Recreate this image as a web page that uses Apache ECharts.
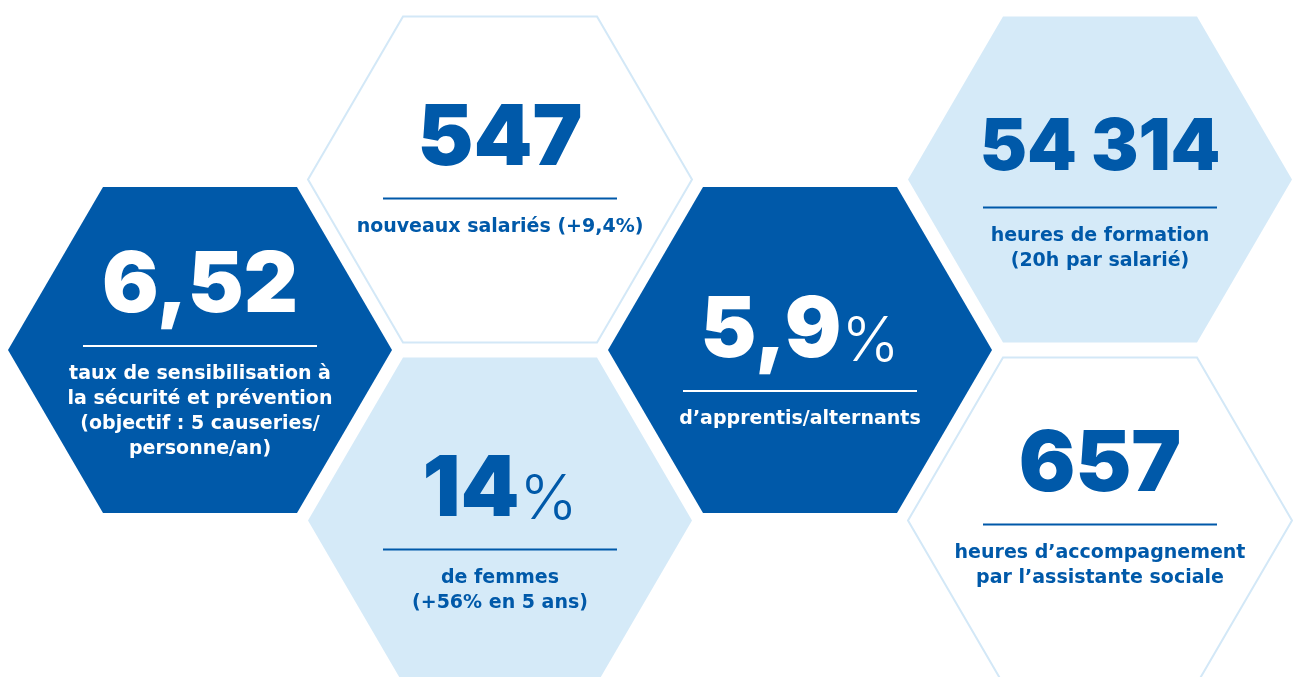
<!DOCTYPE html>
<html>
<head>
<meta charset="utf-8">
<script src="https://cdn.jsdelivr.net/npm/echarts@6/dist/echarts.min.js"></script>
<style>
  html, body { margin: 0; padding: 0; background: #fff; }
  #hexes { width: 1293px; height: 677px; }
</style>
</head>
<body>
<div id="hexes"></div>
<script>
// chiffres clés
const figures = ['6,52', '547', '14', '5,9', '54 314', '657'];
const units = ['', '', '%', '%', '', ''];
const captions = [
  ['taux de sensibilisation à', 'la sécurité et prévention', '(objectif : 5 causeries/', 'personne/an)'],
  ['nouveaux salariés (+9,4%)'],
  ['de femmes', '(+56% en 5 ans)'],
  ['d’apprentis/alternants'],
  ['heures de formation', '(20h par salarié)'],
  ['heures d’accompagnement', 'par l’assistante sociale']
];
const tones = ['dark', 'outline', 'light', 'dark', 'light', 'outline'];

// placement des alvéoles (colonne, demi-rangée, position du filet)
const slots = [
  { col: 0, row: 0, rule: -4 },
  { col: 1, row: -1, rule: 19 },
  { col: 1, row: 1, rule: 29 },
  { col: 2, row: 0, rule: 41 },
  { col: 3, row: -1, rule: 28 },
  { col: 3, row: 1, rule: 4 }
];

const BLUE = '#0059a9';
const PALE = '#d5eaf8';
const EDGE = '#d3e8f7';

const chart = echarts.init(document.getElementById('hexes'));

function renderHex(params, api) {
  const i = params.dataIndex;
  const s = slots[i];
  const cx = 200 + s.col * 300;
  const cy = 350 + s.row * 170.5;
  const hw = 192, ht = 97, hh = 163;
  const pts = [
    [cx - hw, cy], [cx - ht, cy - hh], [cx + ht, cy - hh],
    [cx + hw, cy], [cx + ht, cy + hh], [cx - ht, cy + hh]
  ].map(p => api.coord(p));
  const tone = tones[i];
  const ink = tone === 'dark' ? '#fff' : BLUE;
  const c = api.coord([cx, cy]);
  const ruleY = c[1] + s.rule;
  const big = figures[i].length > 4 ? 71 : 84;
  return {
    type: 'group',
    children: [
      {
        type: 'polygon',
        shape: { points: pts },
        style: tone === 'outline'
          ? { fill: '#fff', stroke: EDGE, lineWidth: 2 }
          : { fill: tone === 'dark' ? BLUE : PALE, stroke: null }
      },
      {
        type: 'line',
        shape: { x1: c[0] - 117, y1: ruleY, x2: c[0] + 117, y2: ruleY },
        style: { stroke: ink, lineWidth: 2 }
      },
      {
        type: 'text',
        x: c[0], y: ruleY - 59,
        style: {
          text: '{n|' + figures[i] + '}' + (units[i] ? '{u|' + units[i] + '}' : ''),
          align: 'center', verticalAlign: 'middle',
          rich: {
            n: { fontFamily: 'Inter', fontWeight: 900, fontSize: big, lineHeight: big, fill: ink },
            u: { fontFamily: 'Inter', fontWeight: 300, fontSize: 62, lineHeight: 62, fill: ink,
                 verticalAlign: 'bottom', padding: [0, 0, 1, 0] }
          }
        }
      },
      {
        type: 'text',
        x: c[0], y: ruleY + 16,
        style: {
          text: captions[i].join('\n'),
          align: 'center', verticalAlign: 'top',
          fontFamily: 'DejaVu Sans', fontWeight: 700, fontSize: 19, lineHeight: 25,
          fill: ink
        }
      }
    ]
  };
}

chart.setOption({
  animation: false,
  grid: { left: 0, right: 0, top: 0, bottom: 0 },
  xAxis: { type: 'value', min: 0, max: 1293, show: false },
  yAxis: { type: 'value', min: 0, max: 677, inverse: true, show: false },
  series: [{
    type: 'custom',
    coordinateSystem: 'cartesian2d',
    data: figures.map((f, i) => [i]),
    renderItem: renderHex,
    silent: true
  }]
});
</script>
</body>
</html>
